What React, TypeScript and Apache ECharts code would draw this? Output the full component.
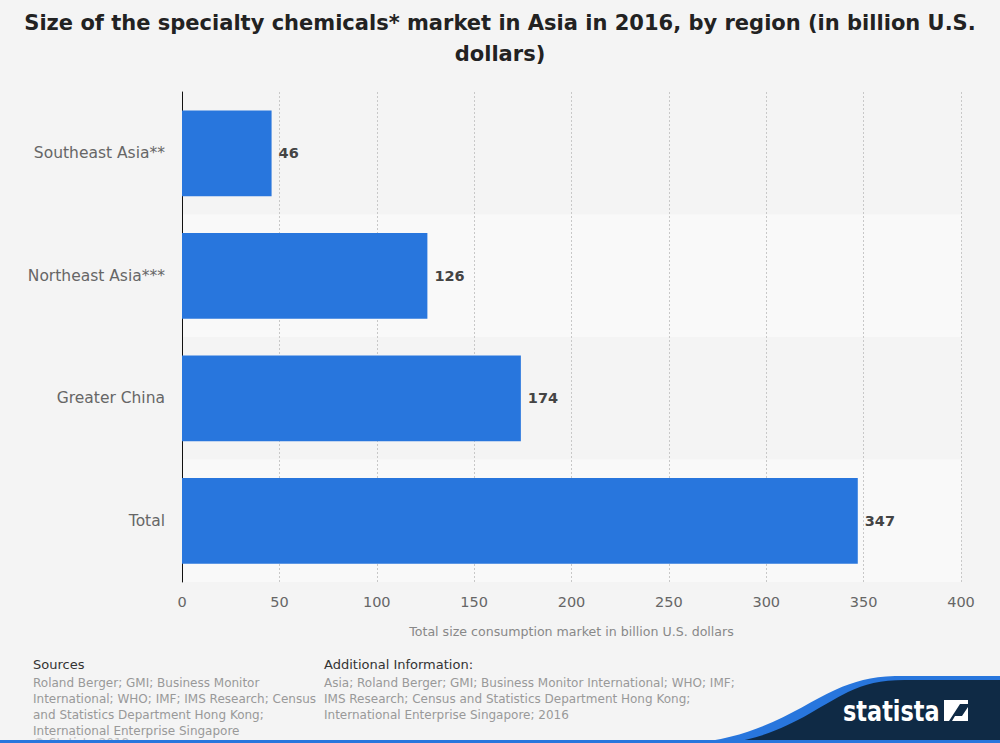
import React, { useEffect, useRef } from "react";
import * as echarts from "echarts";

const categories = ["Southeast Asia**", "Northeast Asia***", "Greater China", "Total"];
const values = [46, 126, 174, 347];
const xTicks = { min: 0, max: 400, interval: 50 };

const titleLines = [
  "Size of the specialty chemicals* market in Asia in 2016, by region (in billion U.S.",
  "dollars)",
];
const axisName = "Total size consumption market in billion U.S. dollars";
const sourcesLines = [
  "Roland Berger; GMI; Business Monitor",
  "International; WHO; IMF; IMS Research; Census",
  "and Statistics Department Hong Kong;",
  "International Enterprise Singapore",
];
const addInfoLines = [
  "Asia; Roland Berger; GMI; Business Monitor International; WHO; IMF;",
  "IMS Research; Census and Statistics Department Hong Kong;",
  "International Enterprise Singapore; 2016",
];

const FONT = "DejaVu Sans, sans-serif";

echarts.graphic.registerShape(
  "blueWave",
  echarts.graphic.extendPath(
    "M 690 743 C 760 738, 800 706, 835 690 C 855 681, 870 677, 895 676 L 1000 676 L 1000 743 Z",
    {}
  )
);
echarts.graphic.registerShape(
  "darkWave",
  echarts.graphic.extendPath(
    "M 728 743 C 785 735, 815 708, 848 692 C 865 684, 880 680, 905 680 L 1000 680 L 1000 743 Z",
    {}
  )
);
echarts.graphic.registerShape(
  "logoIcon",
  echarts.graphic.extendPath(
    "M 944 700 L 968 700 L 968 704 L 960 704 L 949 721 L 944 721 Z M 968 721 L 952 721 L 955 716 L 962 716 L 968 707 Z",
    {}
  )
);

export default function App() {
  const ref = useRef<HTMLDivElement>(null);
  useEffect(() => {
    document.body.style.margin = "0";
    document.body.style.background = "#f4f4f4";
    const chart = echarts.init(ref.current!, null, { renderer: "svg" });
    chart.setOption({
      animation: false,
      backgroundColor: "#f4f4f4",
      grid: { left: 182, right: 39, top: 92, bottom: 161 },
      xAxis: {
        type: "value",
        min: xTicks.min,
        max: xTicks.max,
        interval: xTicks.interval,
        axisLine: { show: false },
        axisTick: { show: false },
        axisLabel: { color: "#666", fontSize: 14.5, fontFamily: FONT, margin: 12 },
        splitLine: { show: true, lineStyle: { color: "#c8c8c8", type: [2, 2], width: 1 } },
        name: axisName,
        nameLocation: "middle",
        nameGap: 43,
        nameTextStyle: { color: "#888", fontSize: 12.6, fontFamily: FONT },
      },
      yAxis: {
        type: "category",
        inverse: true,
        data: categories,
        axisLine: { show: true, lineStyle: { color: "#111", width: 1 } },
        axisTick: { show: false },
        axisLabel: { color: "#666", fontSize: 15.5, fontFamily: FONT, margin: 17 },
        splitArea: { show: true, areaStyle: { color: ["#f4f4f4", "#f9f9f9"] } },
      },
      series: [
        {
          type: "bar",
          data: values,
          barWidth: "70%",
          itemStyle: { color: "#2876dd" },
          label: {
            show: true,
            position: "right",
            distance: 7,
            color: "#444",
            fontWeight: "bold",
            fontSize: 14.5,
            fontFamily: FONT,
          },
        },
      ],
      graphic: [
        {
          type: "text",
          x: 500,
          y: 7,
          style: {
            text: titleLines.join("\n"),
            fill: "#222",
            font: `bold 21px ${FONT}`,
            lineHeight: 31,
            align: "center",
            verticalAlign: "top",
          },
        },
        {
          type: "text",
          x: 33,
          y: 658,
          style: { text: "Sources", fill: "#333", font: `13px ${FONT}` },
        },
        {
          type: "text",
          x: 33,
          y: 675,
          style: { text: sourcesLines.join("\n"), fill: "#999", font: `12px ${FONT}`, lineHeight: 16 },
        },
        {
          type: "text",
          x: 324,
          y: 658,
          style: { text: "Additional Information:", fill: "#333", font: `13px ${FONT}` },
        },
        {
          type: "text",
          x: 324,
          y: 675,
          style: { text: addInfoLines.join("\n"), fill: "#999", font: `12px ${FONT}`, lineHeight: 16 },
        },
        {
          type: "text",
          x: 33,
          y: 737,
          style: { text: "© Statista 2018", fill: "#bbb", font: `12px ${FONT}` },
        },
        { type: "blueWave", style: { fill: "#2876dd" }, z: 10 },
        { type: "darkWave", style: { fill: "#0f2a45" }, z: 11 },
        {
          type: "rect",
          shape: { x: 0, y: 740, width: 1000, height: 3 },
          style: { fill: "#2876dd" },
          z: 12,
        },
        {
          type: "text",
          x: 843,
          y: 711,
          scaleX: 0.8,
          style: {
            text: "statista",
            fill: "#fff",
            font: `bold 28px ${FONT}`,
            verticalAlign: "middle",
            align: "left",
          },
          z: 13,
        },
        { type: "logoIcon", style: { fill: "#fff" }, z: 13 },
      ],
    });
    return () => chart.dispose();
  }, []);
  return <div ref={ref} style={{ width: 1000, height: 743 }} />;
}
